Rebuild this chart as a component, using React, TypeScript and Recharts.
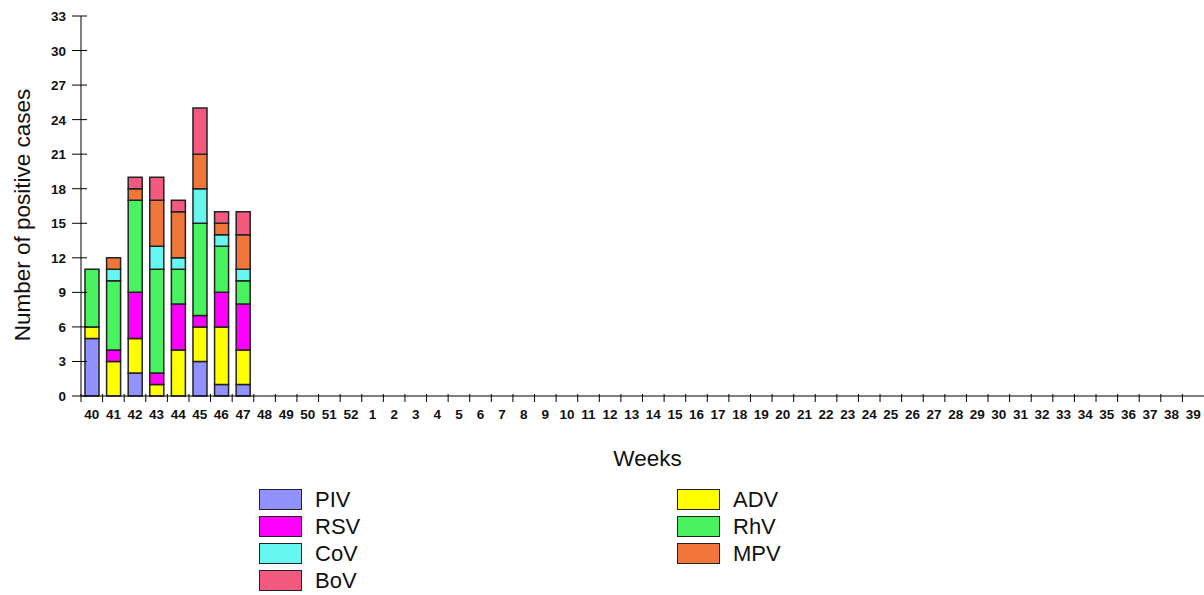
import React from 'react';
import { BarChart, Bar, XAxis, YAxis, Legend, Label } from 'recharts';

const weeks = [
  '40', '41', '42', '43', '44', '45', '46', '47', '48', '49', '50', '51', '52',
  '1', '2', '3', '4', '5', '6', '7', '8', '9', '10', '11', '12', '13', '14', '15',
  '16', '17', '18', '19', '20', '21', '22', '23', '24', '25', '26', '27', '28', '29',
  '30', '31', '32', '33', '34', '35', '36', '37', '38', '39'
];

// weeks 40..47 only, the rest of the season has no data yet
const piv = [5, 0, 2, 0, 0, 3, 1, 1];
const adv = [1, 3, 3, 1, 4, 3, 5, 3];
const rsv = [0, 1, 4, 1, 4, 1, 3, 4];
const rhv = [5, 6, 8, 9, 3, 8, 4, 2];
const cov = [0, 1, 0, 2, 1, 3, 1, 1];
const mpv = [0, 1, 1, 4, 4, 3, 1, 3];
const bov = [0, 0, 1, 2, 1, 4, 1, 2];

const yTicks = [0, 3, 6, 9, 12, 15, 18, 21, 24, 27, 30, 33];

const series = [
  { key: 'PIV', values: piv, color: '#9191FF' },
  { key: 'ADV', values: adv, color: '#FFFF00' },
  { key: 'RSV', values: rsv, color: '#FF00FF' },
  { key: 'RhV', values: rhv, color: '#48F35F' },
  { key: 'CoV', values: cov, color: '#66F7F0' },
  { key: 'MPV', values: mpv, color: '#F0763A' },
  { key: 'BoV', values: bov, color: '#F45A80' }
];

const data = weeks.map((w, i) => {
  const row: any = { week: w };
  series.forEach((s) => {
    const v = s.values[i];
    row[s.key] = v === undefined ? null : v;
  });
  return row;
});

const FONT = '"Liberation Sans", Arial, sans-serif';
const BAND = 1123 / weeks.length;
const LEGEND_H = 110;

const XTick = ({ x, y, payload }: any) => (
  <g>
    <line x1={x - BAND / 2} x2={x - BAND / 2} y1={y - 2} y2={y + 6} stroke="#000" />
    <text x={x} y={y + 23} textAnchor="middle" fontSize={13.5} fontWeight="bold" fill="#111" fontFamily={FONT}>
      {payload.value}
    </text>
  </g>
);

const YTick = ({ x, y, payload }: any) => (
  <g>
    <line x1={x - 9} x2={x + 6} y1={y} y2={y} stroke="#000" />
    <text x={x - 15} y={y + 5} textAnchor="end" fontSize={13.5} fontWeight="bold" fill="#111" fontFamily={FONT}>
      {payload.value}
    </text>
  </g>
);

const LegendBox = () => (
  <div style={{ position: 'relative', height: LEGEND_H, fontFamily: FONT, fontSize: 22, color: '#111' }}>
    {series.map((s, i) => {
      const col = i % 2;
      const row = Math.floor(i / 2);
      return (
        <div
          key={s.key}
          style={{ position: 'absolute', left: col === 0 ? 259 : 677, top: row * 27, display: 'flex', alignItems: 'center', lineHeight: '25px' }}
        >
          <span style={{ display: 'inline-block', width: 41, height: 19, background: s.color, border: '1px solid #222' }} />
          <span style={{ marginLeft: 13 }}>{s.key}</span>
        </div>
      );
    })}
  </div>
);

export default function App() {
  return (
    <div style={{ position: 'absolute', left: 0, top: 0, width: 1204, height: 595, background: '#fff' }}>
      <BarChart
        width={1204}
        height={595}
        data={data}
        margin={{ top: 16, right: 0, left: 0, bottom: 129 - LEGEND_H }}
        barCategoryGap={4}
      >
        <XAxis
          dataKey="week"
          interval={0}
          tickSize={0}
          tickMargin={0}
          tick={<XTick />}
          axisLine={{ stroke: '#000' }}
          height={70}
        >
          <Label
            content={({ viewBox }: any) => (
              <text x={viewBox.x + viewBox.width / 2 + 5} y={viewBox.y + 70} textAnchor="middle" fontSize={22.5} fill="#111" fontFamily={FONT}>
                Weeks
              </text>
            )}
          />
        </XAxis>
        <YAxis
          width={81}
          domain={[0, 33]}
          ticks={yTicks}
          interval={0}
          tickSize={0}
          tickMargin={0}
          tick={<YTick />}
          axisLine={{ stroke: '#000' }}
        >
          <Label
            content={({ viewBox }: any) => {
              const cx = viewBox.x + 30;
              const cy = viewBox.y + viewBox.height / 2 + 9;
              return (
                <text x={cx} y={cy} transform={`rotate(-90, ${cx}, ${cy})`} textAnchor="middle" fontSize={22.5} fill="#111" fontFamily={FONT}>
                  Number of positive cases
                </text>
              );
            }}
          />
        </YAxis>
        <Legend
          content={() => <LegendBox />}
          wrapperStyle={{ position: 'absolute', left: 0, top: 487, width: 1204 }}
        />
        {series.map((s) => (
          <Bar
            key={s.key}
            dataKey={s.key}
            stackId="a"
            fill={s.color}
            stroke="#222"
            strokeWidth={1.5}
            barSize={14}
            isAnimationActive={false}
          />
        ))}
      </BarChart>
    </div>
  );
}
